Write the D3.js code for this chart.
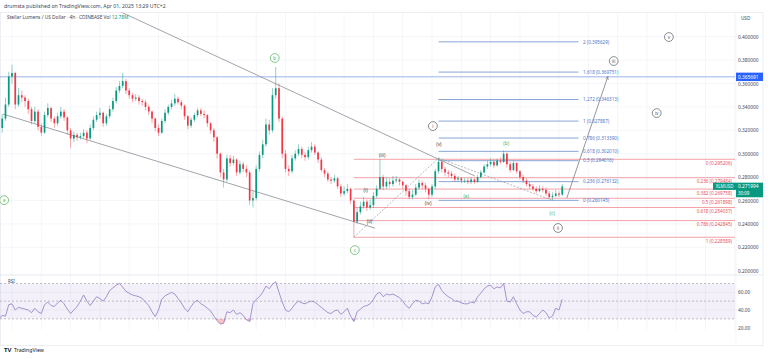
<!DOCTYPE html>
<html>
<head>
<meta charset="utf-8">
<script src="https://cdn.jsdelivr.net/npm/d3@7"></script>
<style>
body { margin: 0; background: #fff; }
svg { display: block; font-family: "Noto Sans", "DejaVu Sans", sans-serif; }
</style>
</head>
<body>
<script>
// ---- data ----
// 8h candles, first one starts 2025-02-02 16:00
var firstOpen = 0.3120;
var candleClose = [
  .3220,.3300,.3420,.3660,.3690,.3420,.3500,.3480,.3450,.3380,
  .3280,.3360,.3230,.3180,.3330,.3390,.3300,.3260,.3320,.3360,
  .3310,.3200,.3130,.3160,.3140,.3150,.3180,.3130,.3220,.3290,
  .3330,.3350,.3260,.3320,.3380,.3450,.3540,.3580,.3620,.3540,
  .3500,.3470,.3480,.3450,.3440,.3400,.3360,.3300,.3220,.3180,
  .3280,.3350,.3400,.3430,.3470,.3440,.3410,.3320,.3240,.3290,
  .3330,.3370,.3340,.3330,.3260,.3200,.3140,.3000,.2840,.2780,
  .2960,.2920,.2950,.2840,.2910,.2870,.2840,.2600,.2620,.2870,
  .2990,.3080,.3250,.3200,.3500,.3560,.3300,.3000,.2870,.2850,
  .2960,.3000,.3040,.2990,.2970,.3030,.3060,.3010,.2950,.2860,
  .2830,.2780,.2770,.2790,.2720,.2660,.2680,.2700,.2600,.2420,
  .2500,.2550,.2590,.2540,.2560,.2640,.2700,.2800,.2720,.2760,
  .2740,.2770,.2780,.2760,.2730,.2680,.2630,.2650,.2710,.2750,
  .2730,.2700,.2650,.2720,.2850,.2930,.2870,.2840,.2830,.2810,
  .2780,.2790,.2770,.2770,.2760,.2780,.2760,.2800,.2840,.2890,
  .2910,.2930,.2900,.2940,.2930,.3000,.2910,.2860,.2920,.2850,
  .2800,.2770,.2740,.2720,.2700,.2680,.2700,.2690,.2660,.2630,
  .2640,.2660,.2650,.2720
];
var candleHigh = [
  .3300,.3340,.3480,.3700,.3760,.3700,.3560,.3540,.3500,.3470,
  .3400,.3400,.3380,.3260,.3360,.3430,.3400,.3320,.3350,.3400,
  .3380,.3320,.3220,.3190,.3180,.3180,.3210,.3200,.3250,.3320,
  .3360,.3390,.3360,.3340,.3410,.3480,.3570,.3620,.3690,.3640,
  .3560,.3520,.3510,.3500,.3470,.3460,.3420,.3370,.3310,.3250,
  .3300,.3380,.3420,.3460,.3510,.3490,.3460,.3420,.3330,.3310,
  .3350,.3390,.3390,.3370,.3340,.3270,.3220,.3150,.3010,.2870,
  .2990,.2990,.2980,.2960,.2940,.2930,.2900,.2860,.2680,.2900,
  .3020,.3120,.3300,.3290,.3560,.3740,.3600,.3320,.3030,.2900,
  .2990,.3030,.3080,.3060,.3010,.3060,.3100,.3080,.3020,.2970,
  .2880,.2850,.2800,.2820,.2800,.2740,.2720,.2740,.2710,.2610,
  .2540,.2590,.2630,.2610,.2610,.2670,.2730,.2952,.2820,.2800,
  .2790,.2810,.2810,.2790,.2770,.2740,.2700,.2690,.2740,.2780,
  .2770,.2750,.2710,.2740,.2870,.2963,.2940,.2890,.2860,.2850,
  .2830,.2810,.2800,.2790,.2790,.2800,.2790,.2820,.2860,.2910,
  .2940,.2960,.2950,.2960,.2970,.3030,.3010,.2930,.2940,.2930,
  .2860,.2820,.2790,.2760,.2740,.2720,.2730,.2720,.2710,.2680,
  .2670,.2690,.2680,.2740
];
var candleLow = [
  .3030,.3180,.3280,.3400,.3600,.3380,.3400,.3440,.3400,.3340,
  .3250,.3260,.3200,.3150,.3170,.3310,.3270,.3220,.3240,.3300,
  .3280,.3160,.3050,.3100,.3110,.3120,.3130,.3090,.3120,.3200,
  .3270,.3300,.3230,.3240,.3300,.3360,.3430,.3520,.3560,.3510,
  .3470,.3440,.3450,.3420,.3410,.3370,.3330,.3260,.3190,.3150,
  .3170,.3260,.3330,.3380,.3410,.3420,.3380,.3290,.3210,.3220,
  .3270,.3310,.3320,.3300,.3230,.3170,.3100,.2960,.2800,.2710,
  .2760,.2890,.2900,.2810,.2820,.2840,.2800,.2560,.2540,.2600,
  .2850,.2960,.3060,.3160,.3180,.3470,.3270,.2960,.2840,.2810,
  .2830,.2940,.2980,.2960,.2940,.2950,.3010,.2990,.2920,.2840,
  .2800,.2760,.2740,.2750,.2700,.2630,.2640,.2660,.2570,.2286,
  .2400,.2480,.2530,.2510,.2520,.2540,.2620,.2690,.2690,.2700,
  .2710,.2720,.2750,.2730,.2700,.2640,.2610,.2610,.2640,.2690,
  .2700,.2670,.2610,.2630,.2700,.2830,.2840,.2810,.2800,.2790,
  .2760,.2760,.2750,.2750,.2740,.2740,.2740,.2750,.2790,.2830,
  .2870,.2890,.2880,.2890,.2910,.2920,.2880,.2840,.2850,.2830,
  .2780,.2750,.2720,.2700,.2680,.2660,.2670,.2670,.2640,.2615,
  .2601,.2630,.2630,.2640
];
var rsiValues = [
  30,34,33,46,47,40,43,42,41,40,
  37,42,38,36,46,49,45,44,48,51,
  47,41,36,40,44,50,57,50,45,50,
  55,53,50,55,62,65,68,70,66,61,
  59,57,56,55,53,49,45,38,32.5,40,
  52,56,58,60,58,53,48,42,38,44,
  49,51,47,45,42,39,33,28,24,25,
  38,37,40,35,37,34,29,27,47,52,
  55,60,67,64,69,72,60,49,40,38,
  42,47,50,48,47,49,50,49,46,43,
  40,37,36,39,40,35,38,42,33,27,
  38,41,44,45,47,52,58,60,55,58,
  57,58,56,54,50,45,42,47,51,50,
  47,48,47,55,66,69,62,58,55,53,
  50,50,48,47,47,49,48,55,59,64,
  67,68,64,66,65,70,50,49,55,47,
  40,36,38,38,34,32,36,40,37,31,
  33,42,40,52
];

var priceTicks = [0.20, 0.22, 0.24, 0.26, 0.28, 0.30, 0.32, 0.34, 0.36, 0.38, 0.40];
var rsiTicks = [20, 40, 60];
var xTickDates = ["2025-02-04","2025-02-07","2025-02-10","2025-02-13","2025-02-16","2025-02-19",
  "2025-02-22","2025-02-25","2025-03-01","2025-03-04","2025-03-07","2025-03-10","2025-03-13",
  "2025-03-16","2025-03-19","2025-03-22","2025-03-25","2025-03-28","2025-04-01","2025-04-04",
  "2025-04-07","2025-04-10","2025-04-13","2025-04-16","2025-04-19"];
var xTickLabels = ["4","7","10","13","16","19","22","25","Mar","4","7","10","13","16","19",
  "22","25","28","Apr","4","7","10","13","16","19"];

// drawings, in [days after Feb 4, price]
var upperTrend = [[11.36, 0.4203], [47.39, 0.2809]];
var lowerTrend = [[-0.92, 0.3339], [37.15, 0.2364]];
var wavePoints = [[35.0, 0.228589], [43.67, 0.296331], [55.33, 0.260145]];
var projArrow = [[56.8, 0.2621], [61.0, 0.3660]];
var hLinePrice = 0.365691;
var lastPrice = 0.271994;

var retraceRatios = ["0","0.236","0.382","0.5","0.618","0.786","1"];
var retracePrices = [0.295206, 0.279484, 0.269758, 0.261898, 0.254037, 0.242845, 0.228589];
var retraceStart = 35.0;

var extRatios = ["0","0.236","0.5","0.618","0.786","1","1.272","1.618","2"];
var extPrices = [0.260145, 0.276132, 0.294016, 0.302010, 0.313390, 0.327887, 0.346313, 0.369751, 0.395629];
var extSpan = [43.67, 58.0];

var greenCircles = [["a", -0.8, 0.2603], ["b", 26.9, 0.3818], ["c", 35.1, 0.2176]];
var grayCircles = [["i", 43.09, 0.3236], ["ii", 55.9, 0.2365], ["iii", 61.6, 0.3792], ["iv", 66.0, 0.3347], ["v", 67.25, 0.3997]];
var minorLabels = [["(i)", 36.2, 0.2688], ["(ii)", 36.6, 0.2423], ["(iii)", 37.9, 0.2989], ["(iv)", 42.6, 0.2578], ["(v)", 43.7, 0.3082]];
var abcLabels = [["(a)", 46.5, 0.2638], ["(b)", 50.6, 0.3091], ["(c)", 55.3, 0.2492]];

// ---- setup ----
var W = 768, H = 359;
var up = "#089981", down = "#f23645", green = "#4caf50";
var day0 = Date.UTC(2025, 1, 4);
function at(d) { return new Date(day0 + d * 864e5); }
var parseDay = d3.utcParse("%Y-%m-%d");

var pane = {left: 0, right: 735, top: 12.5, bottom: 274};
var rsiPane = {top: 276, bottom: 330};

var x = d3.scaleUtc().domain([at(0), at(56)]).range([12, 559]);
var y = d3.scaleLinear().domain([0.2, 0.4]).range([270.7, 36.7]);
var yRsi = d3.scaleLinear().domain([20, 60]).range([327.7, 292.3]);

var candles = candleClose.map(function(c, i) {
  return {
    t: new Date(Date.UTC(2025, 1, 2, 16) + i * 8 * 3600e3),
    o: i === 0 ? firstOpen : candleClose[i - 1],
    h: candleHigh[i], l: candleLow[i], c: c, rsi: rsiValues[i]
  };
});

var svg = d3.select("body").append("svg").attr("width", W).attr("height", H);

svg.append("text").attr("x", 4).attr("y", 8).attr("font-size", 5.2).attr("fill", "#434651")
  .text("drumsta published on TradingView.com, Apr 01, 2025 13:29 UTC+2");

var defs = svg.append("defs");
defs.append("clipPath").attr("id", "clipP").append("rect")
  .attr("x", pane.left).attr("y", pane.top).attr("width", pane.right - pane.left).attr("height", pane.bottom - pane.top);
defs.append("clipPath").attr("id", "clipR").append("rect")
  .attr("x", pane.left).attr("y", rsiPane.top).attr("width", pane.right - pane.left).attr("height", rsiPane.bottom - rsiPane.top);
defs.append("clipPath").attr("id", "clipX").append("rect")
  .attr("x", 0).attr("y", 330).attr("width", 736).attr("height", 15);

// frame
svg.append("rect").attr("x", 0.5).attr("y", pane.top).attr("width", 762.5).attr("height", 333)
  .attr("fill", "none").attr("stroke", "#e0e3eb").attr("stroke-width", 0.6);

// grid
var grid = svg.append("g").attr("stroke", "#eef0f5").attr("stroke-width", 0.6);
grid.selectAll(".vg").data(xTickDates).enter().append("line")
  .attr("x1", function(d) { return x(parseDay(d)); }).attr("x2", function(d) { return x(parseDay(d)); })
  .attr("y1", pane.top).attr("y2", rsiPane.bottom);
grid.selectAll(".hg").data(priceTicks.slice(1)).enter().append("line")
  .attr("x1", pane.left).attr("x2", pane.right)
  .attr("y1", function(d) { return y(d); }).attr("y2", function(d) { return y(d); });
grid.selectAll(".rg").data([40, 60]).enter().append("line")
  .attr("x1", pane.left).attr("x2", pane.right)
  .attr("y1", function(d) { return yRsi(d); }).attr("y2", function(d) { return yRsi(d); });

// pane separator
svg.append("line").attr("x1", 0).attr("x2", 763).attr("y1", 275).attr("y2", 275)
  .attr("stroke", "#e0e3eb").attr("stroke-width", 0.8);
svg.append("line").attr("x1", 736).attr("x2", 736).attr("y1", pane.top).attr("y2", 345)
  .attr("stroke", "#eef0f5").attr("stroke-width", 0.6);

// ---- price pane ----
var P = svg.append("g").attr("clip-path", "url(#clipP)");

// horizontal line
P.append("line").attr("x1", pane.left).attr("x2", pane.right)
  .attr("y1", y(hLinePrice)).attr("y2", y(hLinePrice))
  .attr("stroke", "#7b9be0").attr("stroke-width", 0.75);

// fib retracement
var xr0 = x(at(retraceStart));
P.selectAll(".rf").data(retracePrices).enter().append("line")
  .attr("x1", xr0).attr("x2", pane.right)
  .attr("y1", function(d) { return y(d); }).attr("y2", function(d) { return y(d); })
  .attr("stroke", "#ef8a92").attr("stroke-width", 0.8);
P.selectAll(".rft").data(retracePrices).enter().append("text")
  .attr("x", 732).attr("y", function(d) { return y(d) + 5.5; })
  .attr("text-anchor", "end").attr("font-size", 4.6).attr("fill", "#e8505b")
  .text(function(d, i) { return retraceRatios[i] + " (" + d3.format(".6f")(d) + ")"; });

// trend-based fib extension
var xe0 = x(at(extSpan[0])), xe1 = x(at(extSpan[1]));
P.selectAll(".ef").data(extPrices).enter().append("line")
  .attr("x1", xe0).attr("x2", xe1)
  .attr("y1", function(d) { return y(d); }).attr("y2", function(d) { return y(d); })
  .attr("stroke", "#6a8fcc").attr("stroke-width", 0.8);
P.selectAll(".eft").data(extPrices).enter().append("text")
  .attr("x", xe1 + 4.5).attr("y", function(d) { return y(d) + 1.7; })
  .attr("font-size", 4.6).attr("fill", "#4a78c8")
  .text(function(d, i) { return extRatios[i] + " (" + d3.format(".6f")(d) + ")"; });

// trend lines
var line = d3.line().x(function(d) { return x(at(d[0])); }).y(function(d) { return y(d[1]); });
function extend(pts, d0, d1) {
  var s = (pts[1][1] - pts[0][1]) / (pts[1][0] - pts[0][0]);
  return [[d0, pts[0][1] + s * (d0 - pts[0][0])], [d1, pts[0][1] + s * (d1 - pts[0][0])]];
}
P.append("path").attr("d", line(extend(upperTrend, 5, upperTrend[1][0])))
  .attr("fill", "none").attr("stroke", "#8a8d96").attr("stroke-width", 0.8);
P.append("path").attr("d", line(lowerTrend))
  .attr("fill", "none").attr("stroke", "#8a8d96").attr("stroke-width", 0.8);
P.append("path").attr("d", line(wavePoints))
  .attr("fill", "none").attr("stroke", "#9598a1").attr("stroke-width", 0.7).attr("stroke-dasharray", "2,1.5");

// candles
var cw = 1.7;
var cg = P.append("g");
cg.selectAll(".wick").data(candles).enter().append("line")
  .attr("x1", function(d) { return x(d.t); }).attr("x2", function(d) { return x(d.t); })
  .attr("y1", function(d) { return y(d.h); }).attr("y2", function(d) { return y(d.l); })
  .attr("stroke", function(d) { return d.c >= d.o ? up : down; }).attr("stroke-width", 0.6).attr("opacity", 0.75);
cg.selectAll(".body").data(candles).enter().append("rect")
  .attr("x", function(d) { return x(d.t) - cw / 2; }).attr("width", cw)
  .attr("y", function(d) { return y(Math.max(d.o, d.c)); })
  .attr("height", function(d) { return Math.max(0.6, Math.abs(y(d.o) - y(d.c))); })
  .attr("fill", function(d) { return d.c >= d.o ? up : down; });

// projection arrow
defs.append("marker").attr("id", "arr").attr("viewBox", "0 0 10 10").attr("refX", 9).attr("refY", 5)
  .attr("markerWidth", 5).attr("markerHeight", 5).attr("orient", "auto")
  .append("path").attr("d", "M0,1 L9,5 L0,9").attr("fill", "none").attr("stroke", "#787b86").attr("stroke-width", 1.5);
P.append("path").attr("d", line(projArrow)).attr("fill", "none")
  .attr("stroke", "#787b86").attr("stroke-width", 0.8).attr("marker-end", "url(#arr)");

// wave labels
function circles(data, color) {
  var g = P.selectAll(null).data(data).enter().append("g")
    .attr("transform", function(d) { return "translate(" + x(at(d[1])) + "," + y(d[2]) + ")"; });
  g.append("circle").attr("r", 4.4).attr("fill", "#fff").attr("stroke", color).attr("stroke-width", 0.7);
  g.append("text").attr("text-anchor", "middle").attr("dy", 1.6).attr("font-size", 4.6)
    .attr("fill", color).text(function(d) { return d[0]; });
}
circles(greenCircles, green);
circles(grayCircles, "#555963");
function labels(data, color) {
  P.selectAll(null).data(data).enter().append("text")
    .attr("x", function(d) { return x(at(d[1])); }).attr("y", function(d) { return y(d[2]) + 1.6; })
    .attr("text-anchor", "middle").attr("font-size", 4.8).attr("fill", color)
    .text(function(d) { return d[0]; });
}
labels(minorLabels, "#434651");
labels(abcLabels, green);

// legend
var lg = svg.append("text").attr("x", 7).attr("y", 19).attr("font-size", 4.8).attr("fill", "#434651");
lg.append("tspan").text("Stellar Lumens / US Dollar · 4h · COINBASE   Vol ");
lg.append("tspan").attr("fill", up).text("12.78M");

// ---- RSI pane ----
var R = svg.append("g").attr("clip-path", "url(#clipR)");
R.append("rect").attr("x", pane.left).attr("width", pane.right - pane.left)
  .attr("y", yRsi(70)).attr("height", yRsi(30) - yRsi(70)).attr("fill", "#7e57c2").attr("opacity", 0.09);
R.selectAll(".rl").data([70, 50, 30]).enter().append("line")
  .attr("x1", pane.left).attr("x2", pane.right)
  .attr("y1", function(d) { return yRsi(d); }).attr("y2", function(d) { return yRsi(d); })
  .attr("stroke", "#9598a1").attr("stroke-width", 0.6).attr("stroke-dasharray", "2,2");
defs.append("clipPath").attr("id", "below30").append("rect")
  .attr("x", 0).attr("y", yRsi(30)).attr("width", 736).attr("height", 30);
R.append("path").datum(candles)
  .attr("d", d3.area().x(function(d) { return x(d.t); }).y0(yRsi(30)).y1(function(d) { return yRsi(Math.min(d.rsi, 30)); }))
  .attr("fill", "#f23645").attr("opacity", 0.3).attr("clip-path", "url(#below30)");
R.append("path").datum(candles)
  .attr("d", d3.line().x(function(d) { return x(d.t); }).y(function(d) { return yRsi(d.rsi); }))
  .attr("fill", "none").attr("stroke", "#8e7cc3").attr("stroke-width", 0.8);
svg.append("text").attr("x", 8).attr("y", 283).attr("font-size", 4.5).attr("fill", "#434651").text("RSI");

// ---- axes ----
var yAxis = svg.append("g").attr("transform", "translate(737,0)")
  .call(d3.axisRight(y).tickValues(priceTicks).tickFormat(d3.format(".6f")).tickSize(0).tickPadding(1));
var rAxis = svg.append("g").attr("transform", "translate(737,0)")
  .call(d3.axisRight(yRsi).tickValues(rsiTicks).tickFormat(d3.format(".2f")).tickSize(0).tickPadding(1));
var xAxis = svg.append("g").attr("transform", "translate(0,332)").attr("clip-path", "url(#clipX)")
  .call(d3.axisBottom(x).tickValues(xTickDates.map(parseDay))
    .tickFormat(function(d, i) { return xTickLabels[i]; }).tickSize(0).tickPadding(3));
[yAxis, rAxis, xAxis].forEach(function(a) {
  a.select(".domain").remove();
  a.selectAll("text").attr("font-size", 4.8).attr("fill", "#434651").attr("font-family", "Noto Sans, sans-serif");
});
xAxis.selectAll("text").filter(function(d, i) { return xTickLabels[i] === "Mar" || xTickLabels[i] === "Apr"; })
  .attr("font-weight", "bold");
svg.append("text").attr("x", 741).attr("y", 20).attr("font-size", 4.6).attr("fill", "#434651").text("USD");

// axis price tags
var hl = svg.append("g").attr("transform", "translate(736," + y(hLinePrice) + ")");
hl.append("rect").attr("x", 0).attr("y", -4.2).attr("width", 27).attr("height", 8.4).attr("fill", "#2962ff");
hl.append("text").attr("x", 2).attr("y", 1.7).attr("font-size", 4.8).attr("fill", "#fff").text(d3.format(".6f")(hLinePrice));

var lp = svg.append("g").attr("transform", "translate(0," + y(lastPrice) + ")");
lp.append("rect").attr("x", 713).attr("y", -3.8).attr("width", 23).attr("height", 7.2).attr("fill", up);
lp.append("text").attr("x", 724.5).attr("y", 1.6).attr("text-anchor", "middle").attr("font-size", 4.4).attr("fill", "#fff").text("XLMUSD");
lp.append("rect").attr("x", 736).attr("y", -3.8).attr("width", 27).attr("height", 14.6).attr("fill", up);
lp.append("text").attr("x", 738).attr("y", 1.6).attr("font-size", 4.8).attr("fill", "#fff").text(d3.format(".6f")(lastPrice));
lp.append("text").attr("x", 738).attr("y", 8.3).attr("font-size", 4.4).attr("fill", "#fff").text("30:09");

// footer logo
var ft = svg.append("g").attr("transform", "translate(4,352)");
ft.append("text").attr("font-size", 6).attr("font-weight", "bold").attr("fill", "#131722").text("TV");
ft.append("text").attr("x", 10).attr("font-size", 5.2).attr("fill", "#131722").text("TradingView");
</script>
</body>
</html>
